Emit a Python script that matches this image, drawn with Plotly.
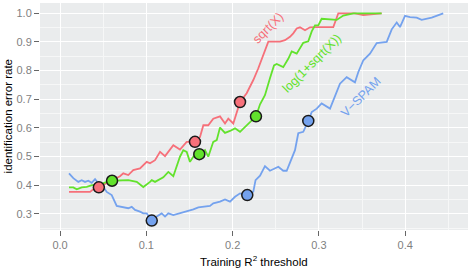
import plotly.graph_objects as go

# ---- data ----
sqrt_x = [0.0104, 0.0348, 0.0406, 0.0450, 0.0498, 0.0556, 0.0614, 0.0695, 0.0733, 0.0791,
          0.0849, 0.0927, 0.1005, 0.1043, 0.1101, 0.1159, 0.1217, 0.1313, 0.1390, 0.1468,
          0.1564, 0.1622, 0.1661, 0.1718, 0.1776, 0.1854, 0.1912, 0.1950, 0.2008, 0.2086,
          0.2163, 0.2240, 0.2298, 0.2337, 0.2375, 0.2414, 0.2549, 0.2607, 0.2665, 0.2703,
          0.2743, 0.2781, 0.2839, 0.2897, 0.2955, 0.3051, 0.3167, 0.3225, 0.3418, 0.3514,
          0.3727]
sqrt_y = [0.376, 0.376, 0.390, 0.392, 0.400, 0.410, 0.417, 0.431, 0.441, 0.435,
          0.452, 0.458, 0.481, 0.476, 0.487, 0.516, 0.501, 0.539, 0.524, 0.551,
          0.551, 0.568, 0.609, 0.609, 0.632, 0.640, 0.615, 0.632, 0.615, 0.690,
          0.721, 0.767, 0.808, 0.837, 0.866, 0.901, 0.901, 0.906, 0.918, 0.930,
          0.947, 0.951, 0.941, 0.951, 0.952, 0.952, 0.952, 1.000, 1.000, 0.994,
          1.000]

log_x = [0.0104, 0.0154, 0.0194, 0.0251, 0.0309, 0.0371, 0.0463, 0.0533, 0.0603, 0.0676,
         0.0791, 0.0889, 0.0965, 0.1043, 0.1063, 0.1101, 0.1197, 0.1255, 0.1313, 0.1390,
         0.1429, 0.1468, 0.1506, 0.1564, 0.1614, 0.1680, 0.1718, 0.1776, 0.1816, 0.1854,
         0.1912, 0.1970, 0.2028, 0.2086, 0.2144, 0.2202, 0.2271, 0.2318, 0.2375, 0.2433,
         0.2480, 0.2511, 0.2587, 0.2645, 0.2685, 0.2743, 0.2819, 0.2877, 0.2917, 0.2955,
         0.2993, 0.3032, 0.3129, 0.3206, 0.3283, 0.3399, 0.3727]
log_y = [0.392, 0.392, 0.385, 0.392, 0.394, 0.400, 0.402, 0.410, 0.415, 0.415,
         0.417, 0.411, 0.393, 0.411, 0.417, 0.411, 0.427, 0.446, 0.431, 0.499,
         0.522, 0.516, 0.481, 0.508, 0.508, 0.522, 0.499, 0.551, 0.557, 0.601,
         0.582, 0.589, 0.598, 0.586, 0.603, 0.623, 0.640, 0.682, 0.714, 0.773,
         0.818, 0.823, 0.812, 0.841, 0.867, 0.859, 0.897, 0.902, 0.937, 0.958,
         0.958, 0.981, 0.978, 0.977, 0.992, 1.000, 1.000]

vspam_x = [0.0104, 0.0154, 0.0212, 0.0251, 0.0290, 0.0328, 0.0367, 0.0406, 0.0444, 0.0502,
           0.0541, 0.0599, 0.0657, 0.0733, 0.0791, 0.0831, 0.0869, 0.0927, 0.0965, 0.1005,
           0.1063, 0.1121, 0.1178, 0.1217, 0.1255, 0.1313, 0.1390, 0.1468, 0.1545, 0.1603,
           0.1661, 0.1738, 0.1776, 0.1854, 0.1912, 0.1970, 0.2028, 0.2086, 0.2170, 0.2240,
           0.2266, 0.2318, 0.2375, 0.2433, 0.2530, 0.2587, 0.2627, 0.2665, 0.2723, 0.2761,
           0.2819, 0.2877, 0.2917, 0.2975, 0.3032, 0.3129, 0.3187, 0.3244, 0.3322, 0.3418,
           0.3457, 0.3515, 0.3592, 0.3670, 0.3786, 0.3844, 0.3902, 0.3940, 0.3998, 0.4056,
           0.4133, 0.4191, 0.4307, 0.4441]
vspam_y = [0.441, 0.424, 0.411, 0.417, 0.411, 0.415, 0.408, 0.421, 0.406, 0.394,
           0.376, 0.365, 0.327, 0.322, 0.319, 0.324, 0.313, 0.307, 0.301, 0.301,
           0.276, 0.290, 0.301, 0.290, 0.301, 0.295, 0.301, 0.307, 0.315, 0.322,
           0.324, 0.327, 0.336, 0.342, 0.350, 0.342, 0.359, 0.371, 0.365, 0.377,
           0.417, 0.433, 0.466, 0.450, 0.464, 0.450, 0.450, 0.476, 0.522, 0.581,
           0.586, 0.624, 0.655, 0.667, 0.685, 0.667, 0.708, 0.754, 0.777, 0.759,
           0.795, 0.836, 0.859, 0.896, 0.900, 0.944, 0.968, 0.952, 0.991, 0.987,
           0.985, 0.977, 0.985, 1.000]

sqrt_pts_x = [0.0450, 0.1564, 0.2086]
sqrt_pts_y = [0.392, 0.551, 0.690]
log_pts_x = [0.0603, 0.1614, 0.2271]
log_pts_y = [0.415, 0.508, 0.640]
vspam_pts_x = [0.1063, 0.2170, 0.2877]
vspam_pts_y = [0.276, 0.365, 0.624]

labels = ["sqrt(X)", "log(1+sqrt(X))", "V\u2212SPAM"]
label_x = [0.241, 0.292, 0.349]
label_y = [0.950, 0.828, 0.707]

x_ticks = [0.0, 0.1, 0.2, 0.3, 0.4]
y_ticks = [0.3, 0.4, 0.5, 0.6, 0.7, 0.8, 0.9, 1.0]

RED = "#F6707A"
GREEN = "#62E22C"
BLUE = "#74A2EE"
FONT = "Liberation Sans, Arial, sans-serif"

fig = go.Figure()
series = [(sqrt_x, sqrt_y, sqrt_pts_x, sqrt_pts_y, RED),
          (log_x, log_y, log_pts_x, log_pts_y, GREEN),
          (vspam_x, vspam_y, vspam_pts_x, vspam_pts_y, BLUE)]
for xs, ys, px, py, c in series:
    fig.add_trace(go.Scatter(x=xs, y=ys, mode="lines",
                             line=dict(color=c, width=1.8), showlegend=False,
                             hoverinfo="skip"))
for xs, ys, px, py, c in series:
    fig.add_trace(go.Scatter(x=px, y=py, mode="markers",
                             marker=dict(color=c, size=11,
                                         line=dict(color="#1a1a1a", width=1.5)),
                             showlegend=False))

colors = [RED, GREEN, BLUE]
for t, x, y, c in zip(labels, label_x, label_y, colors):
    fig.add_annotation(x=x, y=y, text=t, showarrow=False, textangle=-45,
                       font=dict(family=FONT, size=12.5, color=c))

# axis titles placed relative to the plotting panel
fig.add_annotation(xref="paper", yref="paper", x=0.5, y=-0.137, yanchor="middle",
                   text="Training R<sup>2</sup> threshold", showarrow=False,
                   font=dict(family=FONT, size=11.5, color="black"))
fig.add_annotation(xref="paper", yref="paper", x=-0.075, y=0.5, xanchor="center",
                   yanchor="middle", textangle=-90,
                   text="identification error rate", showarrow=False,
                   font=dict(family=FONT, size=11.5, color="black"))

fig.update_layout(
    width=470, height=270,
    margin=dict(l=40, r=2, t=3, b=40),
    paper_bgcolor="white", plot_bgcolor="#EAECED",
    font=dict(family=FONT, size=11, color="#7F7F7F"),
)
fig.update_xaxes(range=[-0.0232, 0.4728], tickvals=x_ticks,
                 ticktext=[f"{v:.1f}" for v in x_ticks],
                 showgrid=True, gridcolor="white", gridwidth=1.4,
                 zeroline=False, showline=False,
                 ticks="outside", ticklen=5, tickcolor="#666666", tickwidth=1,
                 tickfont=dict(size=11, color="#7F7F7F"),
                 minor=dict(dtick=0.05, tick0=0, showgrid=True,
                            gridcolor="#F6F7F7", gridwidth=0.7, ticks=""),
                 automargin=False)
fig.update_yaxes(range=[0.243, 1.036], tickvals=y_ticks,
                 ticktext=[f"{v:.1f}" for v in y_ticks],
                 showgrid=True, gridcolor="white", gridwidth=1.4,
                 zeroline=False, showline=False,
                 ticks="outside", ticklen=5, tickcolor="#666666", tickwidth=1,
                 tickfont=dict(size=11, color="#7F7F7F"),
                 minor=dict(dtick=0.05, tick0=0.25, showgrid=True,
                            gridcolor="#F6F7F7", gridwidth=0.7, ticks=""),
                 automargin=False)

fig.write_html("out.html", config={"displayModeBar": False},
               post_script="document.body.style.margin='0';document.body.style.padding='0';")
